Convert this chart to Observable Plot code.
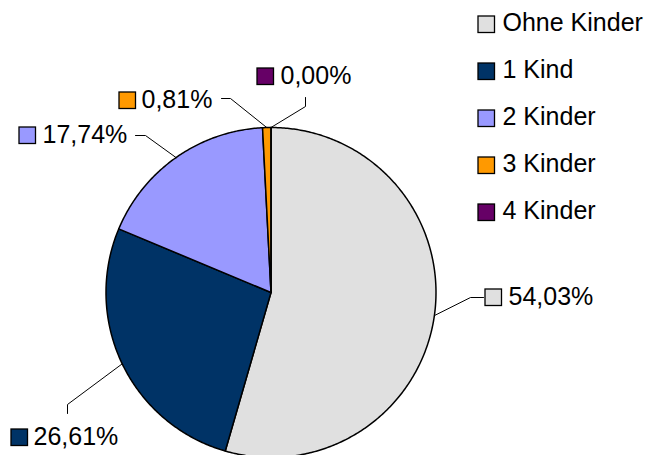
<!DOCTYPE html>
<html><head><meta charset="utf-8">
<script src="https://cdn.jsdelivr.net/npm/d3@7"></script>
<script src="https://cdn.jsdelivr.net/npm/@observablehq/plot@0.6"></script>
<style>html,body{margin:0;padding:0;background:#fff;} svg{display:block}</style>
</head><body><div id="chart"></div>
<script>
// ---- data ----
const categories = ["Ohne Kinder", "1 Kind", "2 Kinder", "3 Kinder", "4 Kinder"];
const percentages = [54.03, 26.61, 17.74, 0.81, 0.00];
const colors = ["#e0e0e0", "#003366", "#9999ff", "#ff9900", "#660066"];

// ---- layout ----
const W = 649, H = 455;
const cx = 270.5, cy = 292, R = 165;
const FONT = "'Liberation Sans', Arial, sans-serif";
const FS = 25;
const BOX = 16.5;
// per-label layout: box top-left, text x, leader elbow and end
const labelLayout = [
  {bx: 485, by: 289, tx: 508, elbow: [470, 297], end: [483, 297]},
  {bx: 11,  by: 429, tx: 33,  elbow: [67, 404],  end: [67, 413]},
  {bx: 19,  by: 127, tx: 42,  elbow: [145, 135], end: [135, 135]},
  {bx: 119, by: 92,  tx: 141, elbow: [230, 98],  end: [221, 98]},
  {bx: 257, by: 68,  tx: 280, elbow: [305, 106], end: [305, 97]}
];
const legendX = 478, legendY0 = 16, legendStep = 47, legendTextX = 502;

// ---- derived ----
const rows = categories.map((c, i) => ({key: c, value: percentages[i], color: colors[i], i}));
const arcs = d3.pie().sort(null).value(d => d.value).startAngle(0).endAngle(2 * Math.PI)(rows);
const pt = (a, r) => [cx + r * Math.sin(a), cy - r * Math.cos(a)];

const piePts = [];
for (const a of arcs) {
  piePts.push({key: a.data.key, x: cx, y: cy});
  const span = a.endAngle - a.startAngle;
  const n = Math.max(2, Math.ceil(span / 0.01));
  for (let k = 0; k <= n; k++) {
    const ang = a.startAngle + span * k / n;
    const [x, y] = pt(ang, R);
    piePts.push({key: a.data.key, x, y});
  }
}

const leaderPts = [];
const labelBoxes = [];
const labelTexts = [];
arcs.forEach((a, i) => {
  const L = labelLayout[i];
  const mid = (a.startAngle + a.endAngle) / 2;
  const [ex, ey] = pt(mid, R);
  leaderPts.push({key: a.data.key, x: ex, y: ey});
  leaderPts.push({key: a.data.key, x: L.elbow[0], y: L.elbow[1]});
  leaderPts.push({key: a.data.key, x: L.end[0], y: L.end[1]});
  labelBoxes.push({key: a.data.key, x1: L.bx, x2: L.bx + BOX, y1: L.by, y2: L.by + BOX});
  labelTexts.push({key: a.data.key, x: L.tx, y: L.by + 15,
    text: a.data.value.toFixed(2).replace(".", ",") + "%"});
});

const legendBoxes = rows.map((d, i) => ({key: d.key, x1: legendX, x2: legendX + BOX,
  y1: legendY0 + i * legendStep, y2: legendY0 + i * legendStep + BOX}));
const legendTexts = rows.map((d, i) => ({key: d.key, x: legendTextX, y: legendY0 + i * legendStep + 14.5}));

const chart = Plot.plot({
  width: W, height: H,
  margin: 0,
  x: {domain: [0, W], range: [0, W], axis: null},
  y: {domain: [0, H], range: [0, H], axis: null},
  color: {domain: categories, range: colors},
  style: {fontFamily: FONT, background: "#fff"},
  marks: [
    Plot.line(piePts, {x: "x", y: "y", z: "key", fill: "key", stroke: "black", strokeWidth: 1.5, curve: "linear-closed", strokeLinejoin: "round"}),
    Plot.line(leaderPts, {x: "x", y: "y", z: "key", stroke: "black", strokeWidth: 1}),
    Plot.rect(labelBoxes, {x1: "x1", x2: "x2", y1: "y1", y2: "y2", fill: "key", stroke: "black", strokeWidth: 1.3}),
    Plot.text(labelTexts, {x: "x", y: "y", text: "text", textAnchor: "start", lineAnchor: "bottom", fontSize: FS, fill: "black"}),
    Plot.rect(legendBoxes, {x1: "x1", x2: "x2", y1: "y1", y2: "y2", fill: "key", stroke: "black", strokeWidth: 1.3}),
    Plot.text(legendTexts, {x: "x", y: "y", text: "key", textAnchor: "start", lineAnchor: "bottom", fontSize: FS, fill: "black"})
  ]
});
document.getElementById("chart").appendChild(chart);
</script>
</body></html>
